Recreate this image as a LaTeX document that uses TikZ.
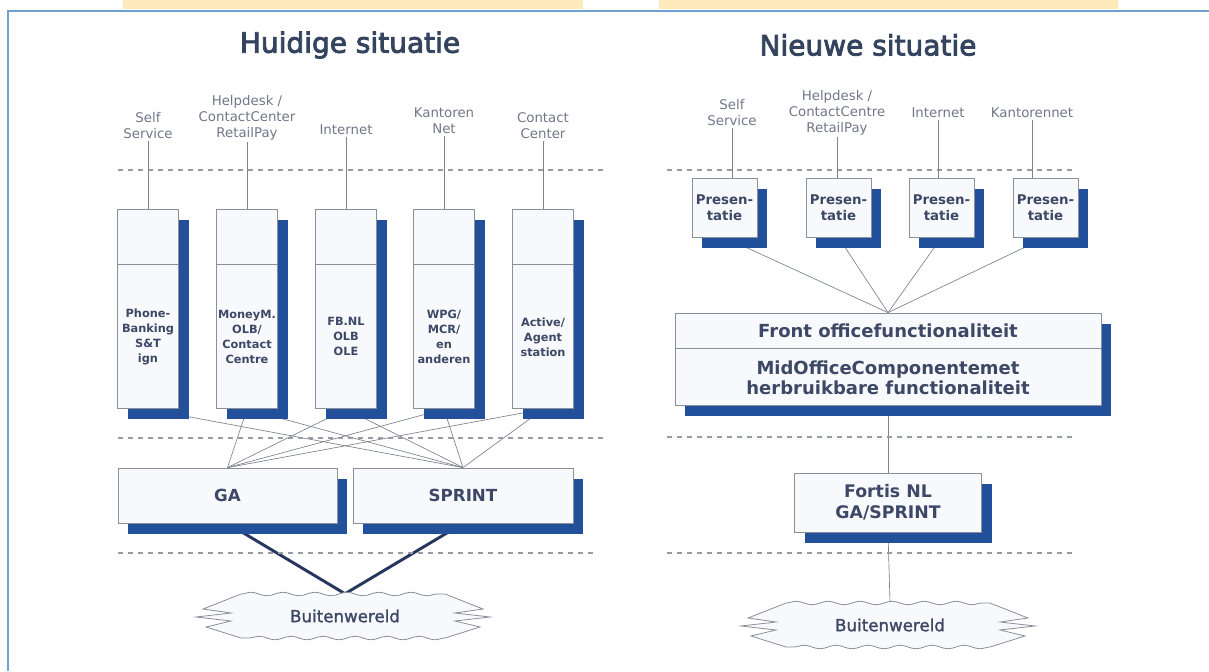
\documentclass[tikz,border=0pt]{standalone}
\usepackage{fontspec}
\setmainfont{DejaVu Sans}
\newfontfamily\titelfont[FakeBold=3]{DejaVu Sans}
\newfontfamily\wolkfont[FakeBold=1.5]{DejaVu Sans}
\usetikzlibrary{positioning,shadows,backgrounds,decorations.pathmorphing}
\definecolor{schaduw}{HTML}{22509A}
\definecolor{rand}{HTML}{8A8F99}
\definecolor{vulling}{HTML}{F8F9FC}
\definecolor{tekst}{HTML}{3C4865}
\definecolor{grijs}{HTML}{707789}
\definecolor{lijn}{HTML}{7D828C}
\definecolor{kader}{HTML}{6FA0CF}
\definecolor{geel}{HTML}{FDE9B9}
\definecolor{donker}{HTML}{26365E}
\definecolor{titelblauw}{HTML}{34445F}

\begin{document}
\begin{tikzpicture}[x=0.75pt, y=-0.75pt]
    \tikzstyle{lbl}=[text=grijs, font=\fontsize{10}{12}\selectfont, align=center, inner sep=1pt]
    \tikzstyle{blok}=[draw=rand, line width=0.6pt, fill=vulling, text=tekst, align=center, inner sep=1pt, drop shadow={shadow xshift=7.5pt, shadow yshift=-8pt, fill=schaduw, opacity=1}]
    \tikzstyle{kolom}=[blok, minimum width=45.75pt, font=\bfseries\fontsize{8.5}{11.25}\selectfont]
    \tikzstyle{present}=[blok, minimum width=48.75pt, minimum height=44.25pt, font=\bfseries\fontsize{10}{12}\selectfont]
    \tikzstyle{dun}=[draw=lijn, line width=0.5pt]
    \tikzstyle{dik}=[draw=donker, line width=2.2pt]
    \tikzstyle{scheiding}=[draw=lijn!80, line width=0.8pt, dash pattern=on 4pt off 3.5pt]
    \tikzstyle{titel}=[text=titelblauw, font=\titelfont\fontsize{21}{24}\selectfont]
    \tikzstyle{wolktekst}=[text=tekst, font=\wolkfont\fontsize{12.5}{15}\selectfont, minimum height=33pt]
    \tikzset{pics/wolk/.style={code={
        \draw[draw=rand, fill=vulling, line width=0.6pt, decoration={snake, amplitude=1.3pt, segment length=24pt}]
            (-102,-22) decorate {-- (102,-22)} -- (140,-7) -- (112,-3) -- (147,1) -- (112,5) -- (137,11) -- (102,22)
            decorate {-- (-102,22)} -- (-137,11) -- (-112,5) -- (-147,1) -- (-112,-3) -- (-140,-7) -- cycle;
    }}}

    \useasboundingbox (0,0) rectangle (1209,671);
    \fill[geel] (123,0) rectangle (583,9);
    \fill[geel] (659,0) rectangle (1118,9);
    \draw[kader, line width=1.5pt] (8,671) -- (8,10.5) -- (1209,10.5);

    \node[titel] (huidig) at (350,45) {Huidige situatie};
    \node[titel] (nieuw) at (868,45) {Nieuwe situatie};

    \draw[scheiding] (118,170) -- (603,170);
    \draw[scheiding] (118,438) -- (603,438);
    \draw[scheiding] (118,553) -- (595,553);
    \draw[scheiding] (667,170) -- (1075,170);
    \draw[scheiding] (667,437) -- (1075,437);
    \draw[scheiding] (667,553) -- (1075,553);

% Huidige situatie: kanalen, applicaties, GA en SPRINT

    \foreach \i/\x/\ly/\lbl/\txt in {
        1/148/126/{Self\\Service}/{Phone-\\Banking\\S\&T\\ign},
        2/247/118/{Helpdesk /\\ContactCenter\\RetailPay}/{MoneyM.\\OLB/\\Contact\\Centre},
        3/346/130/{Internet}/{FB.NL\\OLB\\OLE},
        4/444/121/{Kantoren\\Net}/{WPG/\\MCR/\\en\\anderen},
        5/543/126/{Contact\\Center}/{Active/\\Agent\\station}} {
        \node[lbl] (l\i) at (\x,\ly) {\lbl};
        \node[kolom, minimum height=41.25pt] (t\i) at (\x,236.5) {};
        \node[kolom, minimum height=108pt, below=0pt of t\i] (b\i) {\txt};
        \draw[dun] (l\i.south) -- (l\i.south |- t\i.north);
    }

    \node[blok, minimum width=164.25pt, minimum height=41.25pt, font=\bfseries\fontsize{12.5}{15}\selectfont] (ga) at (227.5,495.5) {GA};
    \node[blok, minimum width=165pt, minimum height=41.25pt, font=\bfseries\fontsize{12.5}{15}\selectfont] (sprint) at (463,495.5) {SPRINT};

    \pic at (343,616) {wolk};
    \node[wolktekst] (bw1) at (345,616) {Buitenwereld};

% Nieuwe situatie: presentatie, front/mid office, Fortis NL

    \foreach \i/\x/\lx/\lbl in {
        1/724.5/732/{Self\\Service},
        2/838.5/837/{Helpdesk /\\ContactCentre\\RetailPay},
        3/941.5/938/{Internet},
        4/1045.5/1032/{Kantorennet}} {
        \node[lbl] (r\i) at (\lx,113) {\lbl};
        \node[present] (p\i) at (\x,207.5) {Presen-\\tatie};
        \draw[dun] (r\i.south) -- (r\i.south |- p\i.north);
    }

    \node[blok, minimum width=319.5pt, minimum height=26.25pt, font=\bfseries\fontsize{13.5}{15}\selectfont] (fo) at (888,330.5) {Front officefunctionaliteit};
    \node[blok, minimum width=319.5pt, minimum height=42.75pt, font=\bfseries\fontsize{13.5}{15}\selectfont, below=0pt of fo] (mo) {MidOfficeComponentemet\\herbruikbare functionaliteit};
    \node[blok, minimum width=140.25pt, minimum height=44.25pt, font=\bfseries\fontsize{13}{16}\selectfont] (fortis) at (888,502.5) {Fortis NL\\GA/SPRINT};

    \pic at (888,625) {wolk};
    \node[wolktekst] (bw2) at (890,625) {Buitenwereld};

    \begin{scope}[on background layer]
        \foreach \i in {2,...,5} \draw[dun] (b\i.south) -- (ga.north);
        \foreach \i in {1,...,5} \draw[dun] (b\i.south) -- (sprint.north);
        \draw[dik] (ga.south) -- (bw1.north);
        \draw[dik] (sprint.south) -- (bw1.north);
        \foreach \i in {1,...,4} \draw[dun] (p\i.south) -- (fo.north);
        \draw[dun] (mo.south) -- (fortis.north);
        \draw[dun] (fortis.south) -- (bw2.north);
    \end{scope}
\end{tikzpicture}
\end{document}
